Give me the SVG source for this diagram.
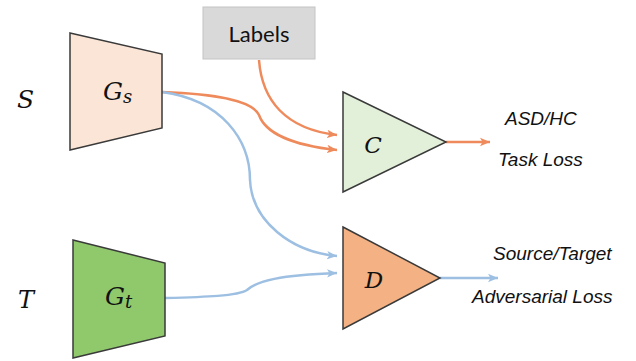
<svg xmlns="http://www.w3.org/2000/svg" width="636" height="361" viewBox="0 0 636 361">
  <style>
    .shape { stroke: #3a3a3a; stroke-width: 1.5; stroke-linejoin: miter; }
    .math { font-family: "DejaVu Serif", "Liberation Serif", serif; font-style: italic; fill: #111; }
    .note { font-family: "Liberation Sans", Arial, sans-serif; font-style: italic; font-size: 19px; fill: #111; }
    .orange { fill: none; stroke: #ee8a5b; stroke-width: 2.5; }
    .blue { fill: none; stroke: #9dbfe2; stroke-width: 2.5; }
  </style>
  <defs>
    <marker id="headOrange" markerUnits="userSpaceOnUse" markerWidth="12" markerHeight="10" refX="10" refY="5" orient="auto">
      <path d="M0,0.8 L10,5 L0,9.2 L2.5,5 Z" fill="#ee8a5b"/>
    </marker>
    <marker id="headBlue" markerUnits="userSpaceOnUse" markerWidth="12" markerHeight="10" refX="10" refY="5" orient="auto">
      <path d="M0,0.8 L10,5 L0,9.2 L2.5,5 Z" fill="#9dbfe2"/>
    </marker>
  </defs>

  <rect width="636" height="361" fill="#ffffff"/>

  <!-- domain labels -->
  <text class="math" x="17" y="108" font-size="25">S</text>
  <text class="math" x="18" y="308" font-size="24">T</text>

  <!-- connectors -->
  <g id="connectors">
    <path class="orange" d="M259,60 C262,100 285,129 337,135" marker-end="url(#headOrange)"/>
    <path class="orange" d="M162,92 C215,94 252,100 259,115 C265,132 290,145 337,150" marker-end="url(#headOrange)"/>
    <path class="blue" d="M162,92 C222,100 250,140 250,180 C252,222 292,252 337,256" marker-end="url(#headBlue)"/>
    <path class="blue" d="M165,298 C205,297 238,296 247,290 C257,281 280,275 337,273" marker-end="url(#headBlue)"/>
    <path class="orange" d="M446,142 L490,142" marker-end="url(#headOrange)"/>
    <path class="blue" d="M440,278 L498,278" marker-end="url(#headBlue)"/>
  </g>

  <!-- source generator -->
  <g id="node-Gs">
    <polygon class="shape" points="70,33 162,54 162,128 70,150" fill="#fbe5d6"/>
    <text class="math" x="103" y="100" font-size="25">G<tspan font-size="18" dy="3">s</tspan></text>
  </g>

  <!-- target generator -->
  <g id="node-Gt">
    <polygon class="shape" points="73,240 165,263 165,336 73,358" fill="#8fc96c"/>
    <text class="math" x="105" y="305" font-size="25">G<tspan font-size="18" dy="3">t</tspan></text>
  </g>

  <!-- label source -->
  <g id="node-labels">
    <rect x="203" y="7" width="112" height="52" fill="#d9d9d9" stroke="#c4c4c4" stroke-width="1"/>
    <text x="259" y="42" text-anchor="middle" font-family="Lato, 'Open Sans', sans-serif" font-size="22" fill="#111">Labels</text>
  </g>

  <!-- classifier -->
  <g id="node-C">
    <polygon class="shape" points="343,92 446,142 343,192" fill="#e2efd9"/>
    <text class="math" x="373" y="153" font-size="23" text-anchor="middle">C</text>
  </g>
  <g id="label-C">
    <text class="note" x="505" y="125">ASD/HC</text>
    <text class="note" x="498" y="166">Task Loss</text>
  </g>

  <!-- discriminator -->
  <g id="node-D">
    <polygon class="shape" points="343,227 440,278 343,329" fill="#f4b183"/>
    <text class="math" x="374" y="288" font-size="23" text-anchor="middle">D</text>
  </g>
  <g id="label-D">
    <text class="note" x="493" y="260">Source/Target</text>
    <text class="note" x="472" y="303">Adversarial Loss</text>
  </g>
</svg>
